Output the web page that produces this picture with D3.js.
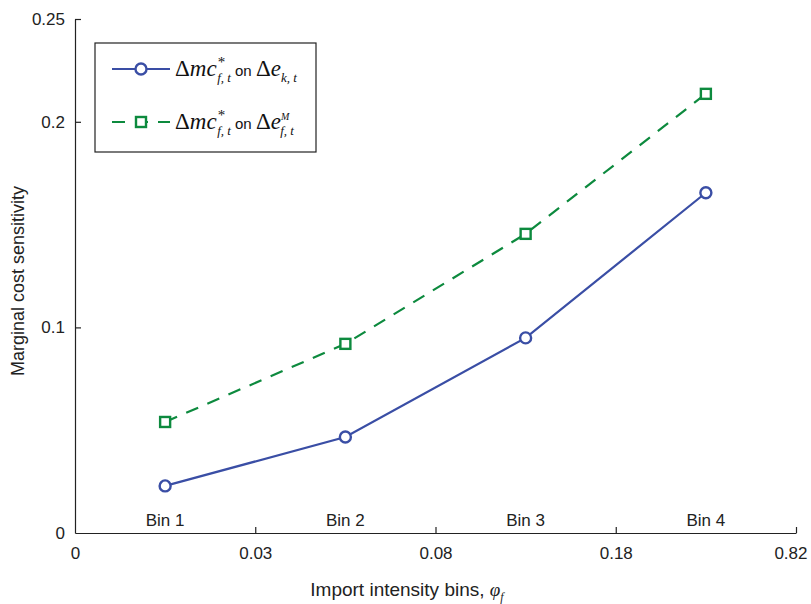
<!DOCTYPE html>
<html>
<head>
<meta charset="utf-8">
<script src="https://cdn.jsdelivr.net/npm/d3@7"></script>
<style>
  body { margin: 0; background: #fff; }
  svg { display: block; }
  .tick text { font-family: "Liberation Sans", Arial, sans-serif; }
</style>
</head>
<body>
<div id="chart"></div>
<script>
// chart data
const bins = ["Bin 1", "Bin 2", "Bin 3", "Bin 4"];
const binEdges = ["0", "0.03", "0.08", "0.18", "0.82"];
const kSeries = [0.0229, 0.0467, 0.0949, 0.1655];
const mSeries = [0.054, 0.092, 0.1455, 0.2136];
const yTicks = [0, 0.1, 0.2, 0.25];

const width = 811, height = 604;
const margin = {top: 19, left: 75, right: 15, bottom: 71};
const blue = "#3a4ea5", green = "#0d8a3e", axisCol = "#222";

const svg = d3.select("#chart").append("svg")
    .attr("width", width).attr("height", height);

const x = d3.scaleLinear().domain([0, 4]).range([margin.left, width - margin.right]);
const y = d3.scaleLinear().domain([0, 0.25]).range([height - margin.bottom, margin.top]);

// x axis: bin edges
const xAxis = d3.axisBottom(x)
    .tickValues(d3.range(binEdges.length))
    .tickFormat(i => binEdges[i])
    .tickSize(-6).tickSizeOuter(0).tickPadding(14);
const gx = svg.append("g")
    .attr("transform", `translate(0,${y(0)})`)
    .call(xAxis);
gx.selectAll(".tick text").attr("font-size", 17).attr("fill", axisCol);
gx.selectAll("line, path").attr("stroke", axisCol).attr("stroke-width", 1.2);
gx.select(".tick:first-of-type line").remove();
gx.select(".tick:last-of-type text").attr("text-anchor", "end").attr("dx", 11);

const yAxis = d3.axisLeft(y)
    .tickValues(yTicks)
    .tickFormat(d => d === 0 ? "0" : d3.format("~g")(d))
    .tickSize(-6).tickSizeOuter(0).tickPadding(10);
const gy = svg.append("g")
    .attr("transform", `translate(${margin.left},0)`)
    .call(yAxis);
gy.selectAll(".tick text").attr("font-size", 17).attr("fill", axisCol);
gy.selectAll("line, path").attr("stroke", axisCol).attr("stroke-width", 1.2);
gy.select(".tick:first-of-type line").remove();

// bin labels
svg.append("g").selectAll("text")
    .data(bins).join("text")
    .attr("x", (d, i) => x(i + 0.5))
    .attr("y", y(0) - 7)
    .attr("text-anchor", "middle")
    .attr("font-family", "'Liberation Sans', Arial, sans-serif")
    .attr("font-size", 17).attr("fill", axisCol)
    .text(d => d);

// axis titles
svg.append("text")
    .attr("x", 407).attr("y", 596)
    .attr("text-anchor", "middle")
    .attr("font-family", "'Liberation Sans', Arial, sans-serif")
    .attr("font-size", 19).attr("fill", axisCol)
    .call(t => {
        t.append("tspan").text("Import intensity bins, ");
        t.append("tspan").attr("font-family", "'Liberation Serif', serif").attr("font-style", "italic").text("φ");
        t.append("tspan").attr("font-family", "'Liberation Serif', serif").attr("font-style", "italic")
            .attr("font-size", 12).attr("dy", 5).text("f");
    });

svg.append("text")
    .attr("transform", `translate(24,${(y(0) + y(0.25)) / 2 + 5}) rotate(-90)`)
    .attr("text-anchor", "middle")
    .attr("font-family", "'Liberation Sans', Arial, sans-serif")
    .attr("font-size", 18).attr("fill", axisCol)
    .text("Marginal cost sensitivity");

// series
const line = d3.line().x((d, i) => x(i + 0.5)).y(d => y(d));

svg.append("path").datum(mSeries)
    .attr("d", line).attr("fill", "none")
    .attr("stroke", green).attr("stroke-width", 2.2)
    .attr("stroke-dasharray", "13,10");
svg.append("g").selectAll("rect")
    .data(mSeries).join("rect")
    .attr("x", (d, i) => x(i + 0.5) - 5).attr("y", d => y(d) - 5)
    .attr("width", 10).attr("height", 10)
    .attr("fill", "#fff").attr("stroke", green).attr("stroke-width", 2.4);

svg.append("path").datum(kSeries)
    .attr("d", line).attr("fill", "none")
    .attr("stroke", blue).attr("stroke-width", 2.2);
svg.append("g").selectAll("circle")
    .data(kSeries).join("circle")
    .attr("cx", (d, i) => x(i + 0.5)).attr("cy", d => y(d))
    .attr("r", 5.5)
    .attr("fill", "#fff").attr("stroke", blue).attr("stroke-width", 2.4);

// legend
const lg = svg.append("g").attr("transform", "translate(95,43)");
lg.append("rect")
    .attr("width", 221).attr("height", 109)
    .attr("fill", "#fff").attr("stroke", axisCol).attr("stroke-width", 1.2);

function legendLabel(g, yPos, sub) {
    const t = g.append("text").attr("x", 80).attr("y", yPos + 7)
        .attr("font-family", "'Liberation Serif', 'Times New Roman', serif")
        .attr("font-size", 23).attr("fill", "#111");
    t.append("tspan").text("Δ");
    t.append("tspan").attr("font-style", "italic").text("mc");
    t.append("tspan").attr("font-size", 15).attr("dy", -9).attr("dx", 1).text("*");
    t.append("tspan").attr("font-style", "italic").attr("font-size", 13)
        .attr("dx", -8).attr("dy", 15).text("f, t");
    t.append("tspan").attr("font-family", "'Liberation Sans', Arial, sans-serif")
        .attr("font-size", 15).attr("dy", -6).text(" on ");
    t.append("tspan").text("Δ");
    t.append("tspan").attr("font-style", "italic").text("e");
    if (sub === "k") {
        t.append("tspan").attr("font-style", "italic").attr("font-size", 13)
            .attr("dy", 6).text("k, t");
    } else {
        t.append("tspan").attr("font-style", "italic").attr("font-size", 10)
            .attr("dy", -9).text("M");
        t.append("tspan").attr("font-style", "italic").attr("font-size", 13)
            .attr("dx", -9).attr("dy", 15).text("f, t");
    }
}

lg.append("line").attr("x1", 17).attr("x2", 75).attr("y1", 26).attr("y2", 26)
    .attr("stroke", blue).attr("stroke-width", 2.2);
lg.append("circle").attr("cx", 46).attr("cy", 26).attr("r", 5.5)
    .attr("fill", "#fff").attr("stroke", blue).attr("stroke-width", 2.4);
legendLabel(lg, 26, "k");

lg.append("line").attr("x1", 17).attr("x2", 75).attr("y1", 79).attr("y2", 79)
    .attr("stroke", green).attr("stroke-width", 2.2).attr("stroke-dasharray", "13,10");
lg.append("rect").attr("x", 41).attr("y", 74).attr("width", 10).attr("height", 10)
    .attr("fill", "#fff").attr("stroke", green).attr("stroke-width", 2.4);
legendLabel(lg, 79, "M");
</script>
</body>
</html>
